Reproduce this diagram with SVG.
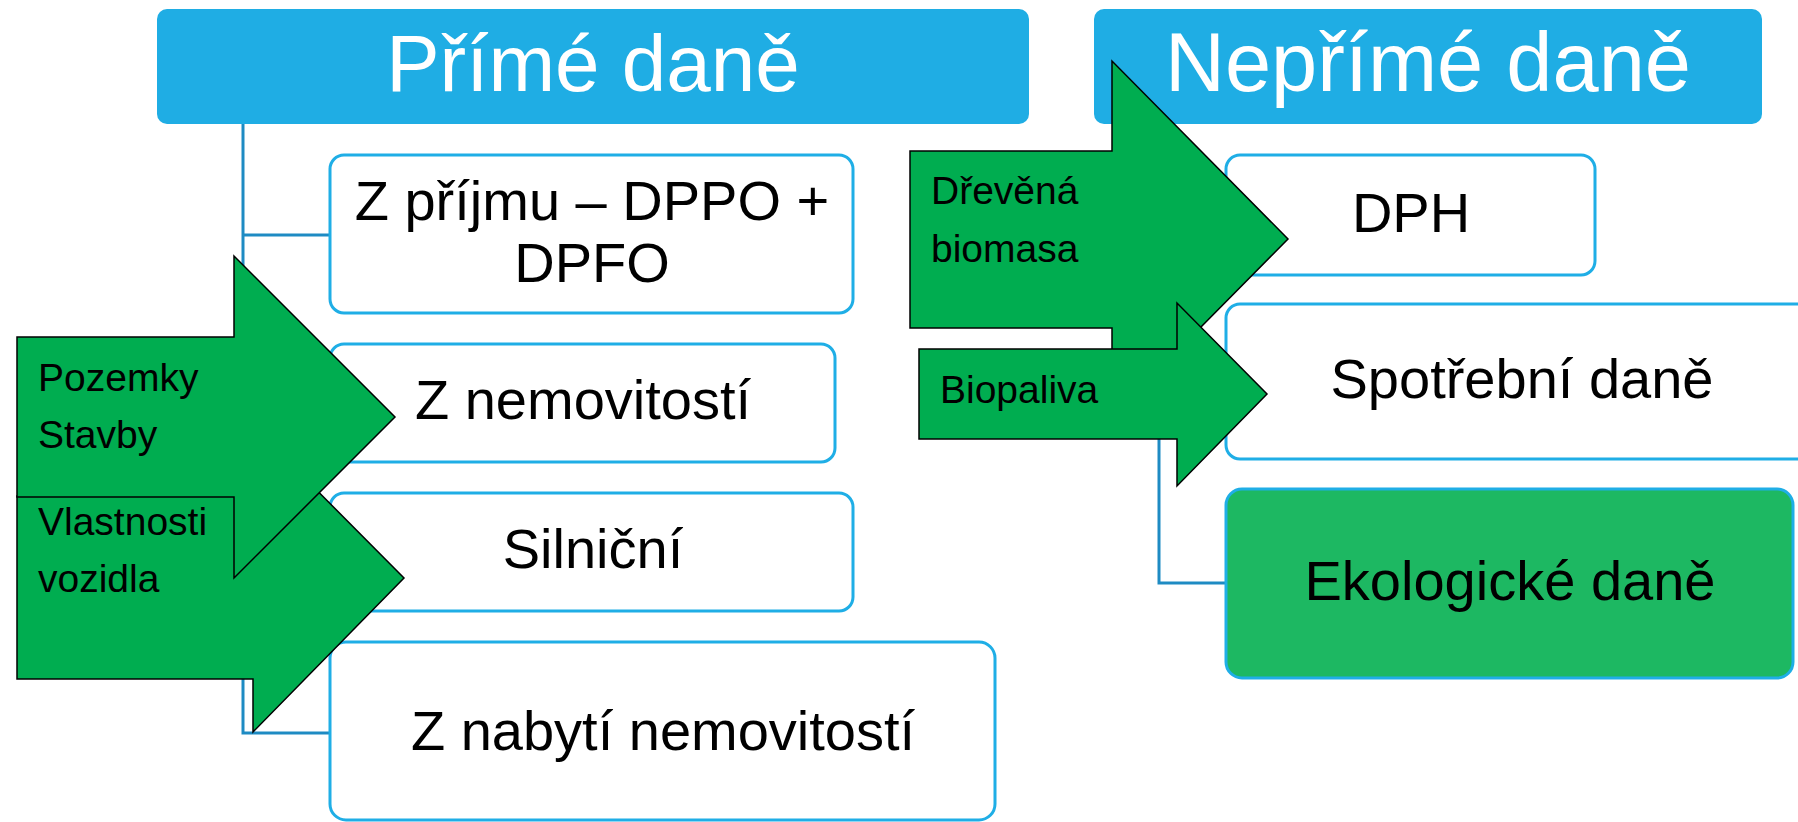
<svg xmlns="http://www.w3.org/2000/svg" width="1798" height="822" viewBox="0 0 1798 822">
<style>
.hdr{fill:#1FADE4}
.hdrtxt{font-family:"Liberation Sans",Arial,sans-serif;font-size:80px;fill:#FFFFFF;text-anchor:middle}
.box{fill:#FFFFFF;stroke:#1FAEE6;stroke-width:3}
.eco{fill:#1DB862;stroke:#1FAEE6;stroke-width:3}
.btxt{font-family:"Liberation Sans",Arial,sans-serif;font-size:56px;fill:#000000;text-anchor:middle}
.conn{fill:none;stroke:#1E8BC3;stroke-width:3}
.arrow{fill:#00AD50;stroke:#000000;stroke-width:1.5;stroke-linejoin:miter}
.atxt{font-family:"Liberation Sans",Arial,sans-serif;font-size:39px;fill:#000000}
</style>
<g id="connectors">
<path class="conn" d="M243,124 V733 H330 M243,235 H330 M243,403 H330 M243,552 H330"/>
<path class="conn" d="M1159,124 V583 H1226 M1159,215 H1226 M1159,382 H1226"/>
</g>
<g id="hdr-prime">
<rect class="hdr" x="157" y="9" width="872" height="115" rx="10"/>
<text class="hdrtxt" x="593" y="91">Přímé daně</text>
</g>
<g id="hdr-neprime">
<rect class="hdr" x="1094" y="9" width="668" height="115" rx="10"/>
<text class="hdrtxt" x="1428" y="91" style="font-size:83px">Nepřímé daně</text>
</g>
<g id="n-prijem">
<rect class="box" x="330" y="155" width="523" height="158" rx="14"/>
<text class="btxt" x="592" y="220">Z příjmu – DPPO +</text>
<text class="btxt" x="592" y="282">DPFO</text>
</g>
<g id="n-nemovitosti">
<rect class="box" x="330" y="344" width="505" height="118" rx="14"/>
<text class="btxt" x="583" y="419">Z nemovitostí</text>
</g>
<g id="n-silnicni">
<rect class="box" x="330" y="493" width="523" height="118" rx="14"/>
<text class="btxt" x="593" y="568">Silniční</text>
</g>
<g id="n-nabyti">
<rect class="box" x="330" y="642" width="665" height="178" rx="16"/>
<text class="btxt" x="663" y="750">Z nabytí nemovitostí</text>
</g>
<g id="n-dph">
<rect class="box" x="1226" y="155" width="369" height="120" rx="14"/>
<text class="btxt" x="1411" y="232">DPH</text>
</g>
<g id="n-spotrebni">
<rect class="box" x="1226" y="304" width="600" height="155" rx="14"/>
<text class="btxt" x="1522" y="398">Spotřební daně</text>
</g>
<g id="n-ekologicke">
<rect class="eco" x="1226" y="489" width="567" height="189" rx="16"/>
<text class="btxt" x="1510" y="600">Ekologické daně</text>
</g>
<g id="a-vozidla">
<polygon class="arrow" points="17,496 253,496 253,426 404,578 253,732 253,679 17,679"/>
<text class="atxt" x="38" y="535">Vlastnosti</text>
<text class="atxt" x="38" y="592">vozidla</text>
</g>
<g id="a-pozemky">
<polygon class="arrow" points="17,337 234,337 234,256 395,417 234,578 234,497 17,497"/>
<text class="atxt" x="38" y="391">Pozemky</text>
<text class="atxt" x="38" y="448">Stavby</text>
</g>
<g id="a-biomasa">
<polygon class="arrow" points="910,151 1112,151 1112,61 1288,239 1112,417 1112,328 910,328"/>
<text class="atxt" x="931" y="204">Dřevěná</text>
<text class="atxt" x="931" y="262">biomasa</text>
</g>
<g id="a-biopaliva">
<polygon class="arrow" points="919,349 1177,349 1177,303 1267,394 1177,486 1177,439 919,439"/>
<text class="atxt" x="940" y="403">Biopaliva</text>
</g>
</svg>
